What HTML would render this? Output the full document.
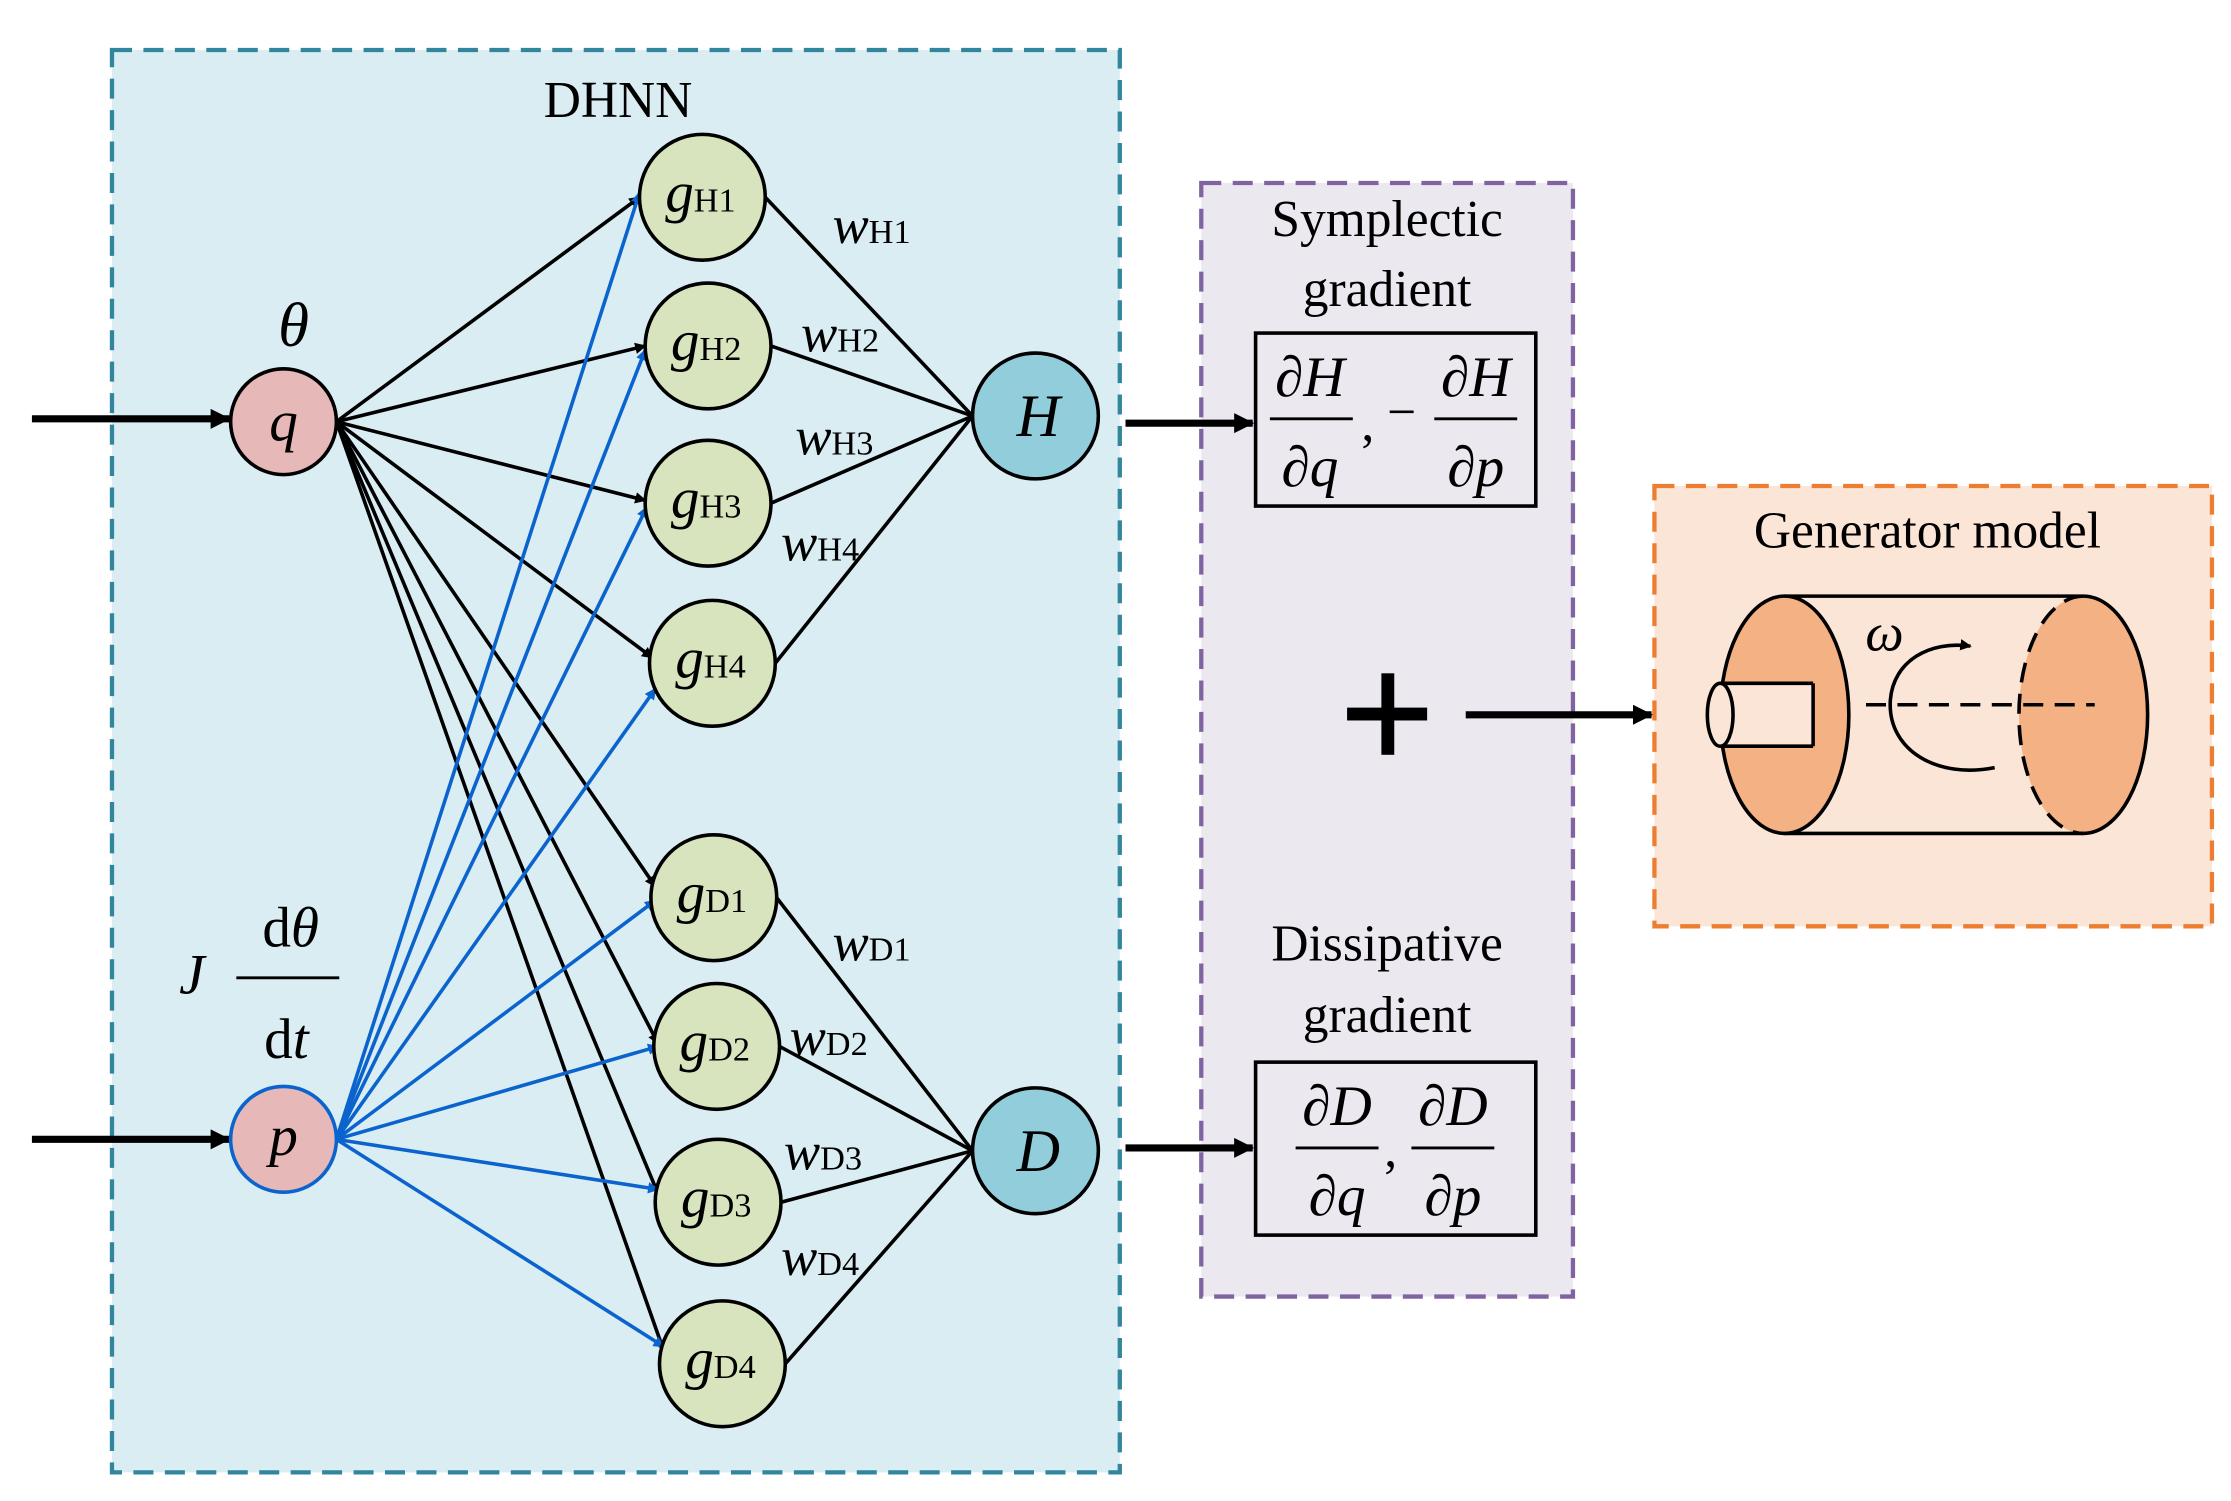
<!DOCTYPE html>
<html><head><meta charset="utf-8"><style>
html,body{margin:0;padding:0;background:#fff;}
svg{display:block;}
text{font-family:"Liberation Serif",serif;}
</style></head><body>
<svg width="2231" height="1501" viewBox="0 0 1560 1050" xmlns="http://www.w3.org/2000/svg">
<defs>
<marker id="ak" markerWidth="8" markerHeight="8" refX="7" refY="4" orient="auto" markerUnits="userSpaceOnUse" viewBox="0 0 8 8"><path d="M0,0 L8,4 L0,8 z" fill="#000"/></marker>
<marker id="ab" markerWidth="8" markerHeight="8" refX="7" refY="4" orient="auto" markerUnits="userSpaceOnUse" viewBox="0 0 8 8"><path d="M0,0 L8,4 L0,8 z" fill="#0b63ce"/></marker>
<marker id="big" markerWidth="14" markerHeight="14" refX="13" refY="7" orient="auto" markerUnits="userSpaceOnUse" viewBox="0 0 14 14"><path d="M0,0 L14,7 L0,14 z" fill="#000"/></marker>
</defs>
<rect x="78" y="35" width="705" height="995" fill="#daedf3" stroke="#31859c" stroke-width="3" stroke-dasharray="14,8"/>
<rect x="840" y="128" width="260" height="779" fill="#ebe8f0" stroke="#8064a2" stroke-width="3" stroke-dasharray="14,8"/>
<rect x="1157" y="340" width="390" height="308" fill="#fbe5d6" stroke="#ed7d31" stroke-width="3" stroke-dasharray="14,8"/>
<text x="432" y="82" font-size="36" text-anchor="middle">DHNN</text>

<g stroke="#000" stroke-width="2.5" fill="none" marker-end="url(#ak)">
<line x1="235" y1="295" x2="447" y2="138"/>
<line x1="235" y1="295" x2="451" y2="242"/>
<line x1="235" y1="295" x2="451" y2="350"/>
<line x1="235" y1="295" x2="456" y2="460"/>
<line x1="235" y1="295" x2="458" y2="620"/>
<line x1="235" y1="295" x2="460" y2="730"/>
<line x1="235" y1="295" x2="460" y2="835"/>
<line x1="235" y1="295" x2="464" y2="945"/>
</g>
<g stroke="#0b63ce" stroke-width="2.5" fill="none" marker-end="url(#ab)">
<line x1="235" y1="797" x2="447" y2="135"/>
<line x1="235" y1="797" x2="451" y2="245"/>
<line x1="235" y1="797" x2="452" y2="355"/>
<line x1="235" y1="797" x2="458" y2="482"/>
<line x1="235" y1="797" x2="458" y2="630"/>
<line x1="235" y1="797" x2="460" y2="732"/>
<line x1="235" y1="797" x2="460" y2="832"/>
<line x1="235" y1="797" x2="464" y2="942"/>
</g>
<g stroke="#000" stroke-width="2.5">
<line x1="535" y1="138" x2="680" y2="291"/>
<line x1="539" y1="242" x2="680" y2="291"/>
<line x1="539" y1="352" x2="680" y2="291"/>
<line x1="542" y1="464" x2="680" y2="291"/>
<line x1="543" y1="628" x2="680" y2="805"/>
<line x1="545" y1="732" x2="680" y2="805"/>
<line x1="546" y1="841" x2="680" y2="805"/>
<line x1="549" y1="954" x2="680" y2="805"/>
</g>
<g stroke="#000" stroke-width="5" marker-end="url(#big)">
<line x1="22" y1="293" x2="160" y2="293"/>
<line x1="22" y1="797" x2="160" y2="797"/>
<line x1="787" y1="296" x2="876" y2="296"/>
<line x1="787" y1="803" x2="876" y2="803"/>
<line x1="1025" y1="500" x2="1155" y2="500"/>
</g>
<circle cx="198" cy="295" r="37" fill="#e6b8b7" stroke="#000" stroke-width="2.5"/>
<circle cx="198" cy="797" r="37" fill="#e6b8b7" stroke="#0b63ce" stroke-width="2.5"/>
<text x="198" y="308" font-size="40" font-style="italic" text-anchor="middle">q</text>
<text x="198" y="808" font-size="40" font-style="italic" text-anchor="middle">p</text>
<text x="205" y="242" font-size="44" font-style="italic" text-anchor="middle">θ</text>
<text x="125" y="695" font-size="40" font-style="italic">J</text>
<text x="203" y="662" font-size="40" text-anchor="middle">d<tspan font-style="italic">θ</tspan></text>
<line x1="165" y1="684" x2="237" y2="684" stroke="#000" stroke-width="2"/>
<text x="200" y="740" font-size="40" text-anchor="middle">d<tspan font-style="italic">t</tspan></text>

<g fill="#d7e4bd" stroke="#000" stroke-width="2.5">
<circle cx="491" cy="138" r="44"/><circle cx="495" cy="242" r="44"/><circle cx="495" cy="352" r="44"/><circle cx="498" cy="464" r="44"/>
<circle cx="499" cy="628" r="44"/><circle cx="501" cy="732" r="44"/><circle cx="502" cy="841" r="44"/><circle cx="505" cy="954" r="44"/>
</g>
<g font-size="40" font-style="italic">
<text x="465" y="148">g<tspan font-size="24" font-style="normal">H1</tspan></text>
<text x="469" y="252">g<tspan font-size="24" font-style="normal">H2</tspan></text>
<text x="469" y="362">g<tspan font-size="24" font-style="normal">H3</tspan></text>
<text x="472" y="474">g<tspan font-size="24" font-style="normal">H4</tspan></text>
<text x="473" y="638">g<tspan font-size="24" font-style="normal">D1</tspan></text>
<text x="475" y="742">g<tspan font-size="24" font-style="normal">D2</tspan></text>
<text x="476" y="851">g<tspan font-size="24" font-style="normal">D3</tspan></text>
<text x="479" y="964">g<tspan font-size="24" font-style="normal">D4</tspan></text>
</g>
<g font-size="38" font-style="italic">
<text x="582" y="170">w<tspan font-size="24" font-style="normal">H1</tspan></text>
<text x="560" y="246">w<tspan font-size="24" font-style="normal">H2</tspan></text>
<text x="556" y="318">w<tspan font-size="24" font-style="normal">H3</tspan></text>
<text x="546" y="392">w<tspan font-size="24" font-style="normal">H4</tspan></text>
<text x="582" y="672">w<tspan font-size="24" font-style="normal">D1</tspan></text>
<text x="552" y="738">w<tspan font-size="24" font-style="normal">D2</tspan></text>
<text x="548" y="818">w<tspan font-size="24" font-style="normal">D3</tspan></text>
<text x="546" y="892">w<tspan font-size="24" font-style="normal">D4</tspan></text>
</g>
<circle cx="724" cy="291" r="44" fill="#92cddc" stroke="#000" stroke-width="2.5"/>
<circle cx="724" cy="805" r="44" fill="#92cddc" stroke="#000" stroke-width="2.5"/>
<text x="726" y="305" font-size="42" font-style="italic" text-anchor="middle">H</text>
<text x="726" y="819" font-size="42" font-style="italic" text-anchor="middle">D</text>

<text x="970" y="165" font-size="36" text-anchor="middle">Symplectic</text>
<text x="970" y="214" font-size="36" text-anchor="middle">gradient</text>
<rect x="878" y="233" width="196" height="121" fill="none" stroke="#000" stroke-width="2.5"/>
<g font-size="40" font-style="italic" text-anchor="middle">
<text x="916" y="277">∂H</text><text x="916" y="340">∂q</text>
<text x="1032" y="277">∂H</text><text x="1032" y="340">∂p</text>
</g>
<line x1="888" y1="293" x2="946" y2="293" stroke="#000" stroke-width="2"/>
<line x1="1003" y1="293" x2="1061" y2="293" stroke="#000" stroke-width="2"/>
<text x="952" y="308" font-size="36">,</text><text x="970" y="300" font-size="36">−</text>

<text x="970" y="672" font-size="36" text-anchor="middle">Dissipative</text>
<text x="970" y="722" font-size="36" text-anchor="middle">gradient</text>
<rect x="878" y="743" width="196" height="121" fill="none" stroke="#000" stroke-width="2.5"/>
<g font-size="40" font-style="italic" text-anchor="middle">
<text x="935" y="787">∂D</text><text x="935" y="850">∂q</text>
<text x="1016" y="787">∂D</text><text x="1016" y="850">∂p</text>
</g>
<line x1="906" y1="803" x2="964" y2="803" stroke="#000" stroke-width="2"/>
<line x1="987" y1="803" x2="1045" y2="803" stroke="#000" stroke-width="2"/>
<text x="968" y="816" font-size="36">,</text>

<rect x="942" y="495" width="56" height="9" fill="#000"/>
<rect x="966" y="471" width="9" height="57" fill="#000"/>

<text x="1348" y="383" font-size="36" text-anchor="middle">Generator model</text>
<rect x="1248" y="417" width="209" height="166" fill="#fbe5d6"/>
<ellipse cx="1457" cy="500" rx="45" ry="83" fill="#f4b183" stroke="none"/>
<path d="M1457,417 A45,83 0 0 1 1457,583" fill="none" stroke="#000" stroke-width="2.5"/>
<path d="M1457,417 A45,83 0 0 0 1457,583" fill="none" stroke="#000" stroke-width="2.5" stroke-dasharray="14,8"/>
<line x1="1248" y1="417" x2="1457" y2="417" stroke="#000" stroke-width="2.5"/>
<line x1="1248" y1="583" x2="1457" y2="583" stroke="#000" stroke-width="2.5"/>
<ellipse cx="1248" cy="500" rx="45" ry="83" fill="#f4b183" stroke="#000" stroke-width="2.5"/>
<rect x="1203" y="478" width="65" height="44" fill="#fbe5d6" stroke="none"/>
<line x1="1203" y1="478" x2="1268" y2="478" stroke="#000" stroke-width="2.5"/>
<line x1="1203" y1="522" x2="1268" y2="522" stroke="#000" stroke-width="2.5"/>
<line x1="1268" y1="478" x2="1268" y2="522" stroke="#000" stroke-width="2.5"/>
<ellipse cx="1203" cy="500" rx="9" ry="22" fill="#fbe5d6" stroke="#000" stroke-width="2.5"/>
<line x1="1305" y1="493" x2="1465" y2="493" stroke="#000" stroke-width="2.5" stroke-dasharray="14,8"/>
<path d="M1395,537 C1355,545 1320,525 1322,490 C1324,462 1350,448 1378,452" fill="none" stroke="#000" stroke-width="2.5" marker-end="url(#ak)"/>
<text x="1318" y="455" font-size="38" font-style="italic" text-anchor="middle">ω</text>
</svg>
</body></html>
